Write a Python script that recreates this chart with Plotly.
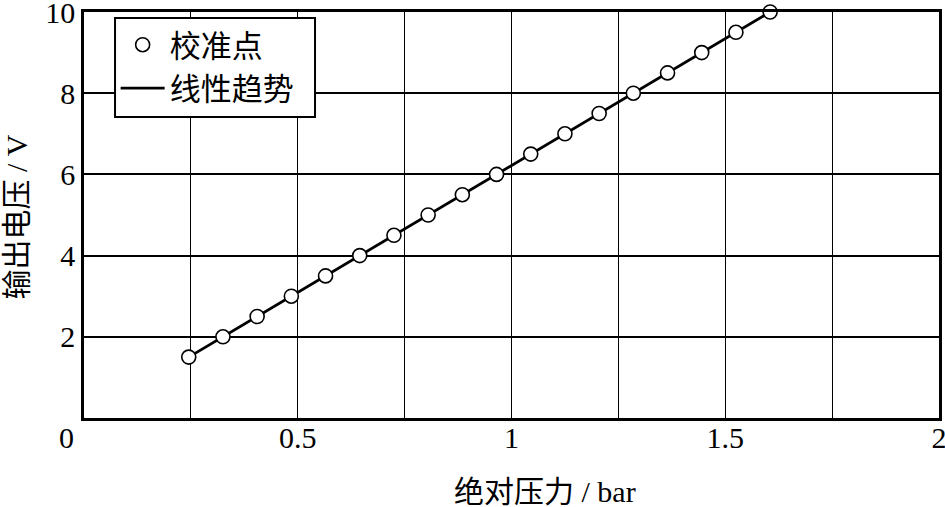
import numpy as np
import plotly.graph_objects as go

# Calibration data (absolute pressure in bar, output voltage in V)
pressure_bar = [0.245, 0.325, 0.405, 0.485, 0.565, 0.645, 0.725, 0.805, 0.885,
                0.965, 1.045, 1.125, 1.205, 1.285, 1.365, 1.445, 1.525, 1.605]
voltage_v = [1.5, 2.0, 2.5, 3.0, 3.5, 4.0, 4.5, 5.0, 5.5,
             6.0, 6.5, 7.0, 7.5, 8.0, 8.5, 9.0, 9.5, 10.0]

x_major_ticks = [0.5, 1, 1.5, 2]
x_major_labels = ["0.5", "1", "1.5", "2"]
x_minor_grid = [0.25, 0.75, 1.25, 1.75]
y_ticks = [2, 4, 6, 8, 10]
y_labels = ["2", "4", "6", "8", "10"]

series_points = "校准点"
series_trend = "线性趋势"
x_title = "绝对压力 / bar"
y_title = "输出电压 / V"

FONT = "Liberation Serif, Times New Roman, Noto Sans CJK SC, serif"

# linear trend from data
k, b = np.polyfit(pressure_bar, voltage_v, 1)
trend_x = [min(pressure_bar), max(pressure_bar)]
trend_y = [k * v + b for v in trend_x]

fig = go.Figure()
fig.add_trace(go.Scatter(
    x=trend_x, y=trend_y, mode="lines", name=series_trend, legendrank=2,
    line=dict(color="black", width=2.8), cliponaxis=False,
))
fig.add_trace(go.Scatter(
    x=pressure_bar, y=voltage_v, mode="markers", name=series_points, legendrank=1,
    marker=dict(symbol="circle", size=14, color="white",
                line=dict(color="black", width=1.6)),
    cliponaxis=False,
))

fig.update_layout(
    width=945, height=507,
    margin=dict(l=84, r=6, t=12, b=89, autoexpand=False),
    plot_bgcolor="white", paper_bgcolor="white",
    font=dict(family=FONT, size=30, color="black"),
    showlegend=True,
    legend=dict(
        x=0.037, y=0.985, xanchor="left", yanchor="top",
        bgcolor="rgba(0,0,0,0)", borderwidth=0,
        font=dict(family=FONT, size=31, color="black"),
        itemwidth=44, traceorder="normal",
    ),
    shapes=[
        dict(type="rect", xref="paper", yref="paper", layer="above",
             x0=0.0363, x1=0.2702, y0=0.7414, y1=0.9852,
             fillcolor="white", line=dict(color="black", width=2)),
    ],
    xaxis=dict(
        range=[0, 2], tickmode="array", tickvals=x_major_ticks, ticktext=x_major_labels,
        showgrid=True, gridcolor="black", gridwidth=1.4,
        minor=dict(tickvals=x_minor_grid, showgrid=True, gridcolor="black", gridwidth=1.4),
        showline=True, linecolor="black", linewidth=2.5, mirror=True,
        ticks="", zeroline=False, automargin=False, ticklabeloverflow="allow",
        ticklabelstandoff=-9,
        tickfont=dict(family=FONT, size=30),
    ),
    yaxis=dict(
        range=[0, 10], tickmode="array", tickvals=y_ticks, ticktext=y_labels,
        showgrid=True, gridcolor="black", gridwidth=1.8,
        showline=True, linecolor="black", linewidth=2.5, mirror=True,
        ticks="", zeroline=False, automargin=False, ticklabeloverflow="allow",
        tickfont=dict(family=FONT, size=30),
    ),
    annotations=[
        dict(text="0", xref="paper", yref="paper", x=-0.009, y=-0.047,
             xanchor="right", yanchor="middle", showarrow=False,
             font=dict(family=FONT, size=30)),
        dict(text=x_title, xref="paper", yref="paper", x=0.539, y=-0.18,
             xanchor="center", yanchor="middle", showarrow=False,
             font=dict(family=FONT, size=30)),
        dict(text=y_title, xref="paper", yref="paper", x=-0.079, y=0.495,
             xanchor="center", yanchor="middle", showarrow=False, textangle=-90,
             font=dict(family=FONT, size=30)),
    ],
)

fig.write_html("out.html", config={"displayModeBar": False},
               post_script="document.body.style.margin='0';document.body.style.overflow='hidden';")
